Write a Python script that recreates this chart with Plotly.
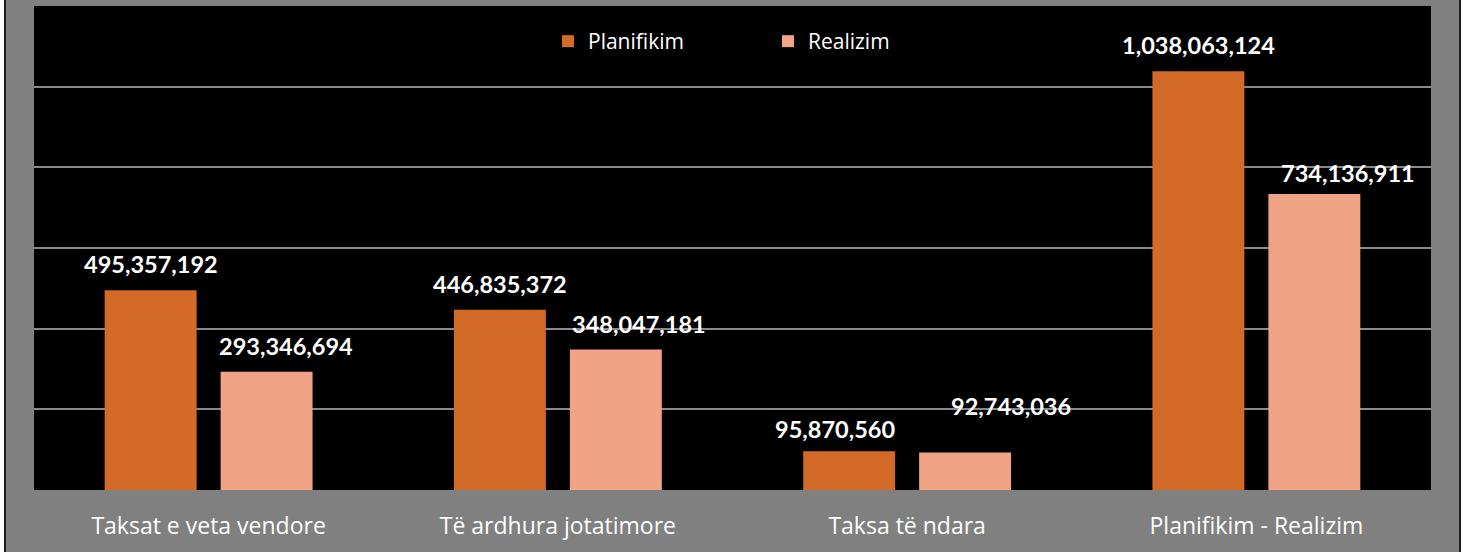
import plotly.graph_objects as go

# ---- data ----
categories = ["Taksat e veta vendore", "Të ardhura jotatimore", "Taksa të ndara", "Planifikim - Realizim"]
series_names = ["Planifikim", "Realizim"]
planifikim = [495357192, 446835372, 95870560, 1038063124]
realizim = [293346694, 348047181, 92743036, 734136911]

# ---- style / layout constants ----
W, H = 1465, 552
ML, MR, MT, MB = 34, 34, 6, 62
PW, PH = W - ML - MR, H - MT - MB
GRAY = "#808080"
C_PLAN = "#D46A28"
C_REAL = "#F0A385"

def px_x(p):
    return (p - ML) / PW

def px_y(p):
    return 1 - (p - MT) / PH

# label offsets (pixels) relative to bar centre / bar top
BAR_OFF = 58
plan_dx = [0, 0, -14, 0]
plan_dy = [10, 10, 6, 10]
real_dx = [19, 23, 46, 34]
real_dy = [10, 10, 31, 5]

LABEL_FONT = dict(family="Lato", size=23.5, color="white", weight="bold")

fig = go.Figure()
fig.add_trace(go.Bar(name=series_names[0], x=categories, y=planifikim,
                     marker=dict(color=C_PLAN, line=dict(width=0))))
fig.add_trace(go.Bar(name=series_names[1], x=categories, y=realizim,
                     marker=dict(color=C_REAL, line=dict(width=0))))

annotations = []
for i, c in enumerate(categories):
    annotations.append(dict(x=c, y=planifikim[i], xref="x", yref="y",
                            text=f"{planifikim[i]:,}", showarrow=False,
                            xanchor="center", yanchor="bottom",
                            xshift=-BAR_OFF + plan_dx[i], yshift=plan_dy[i],
                            font=LABEL_FONT))
    annotations.append(dict(x=c, y=realizim[i], xref="x", yref="y",
                            text=f"{realizim[i]:,}", showarrow=False,
                            xanchor="center", yanchor="bottom",
                            xshift=BAR_OFF + real_dx[i], yshift=real_dy[i],
                            font=LABEL_FONT))

shapes = [
    # grey frame of the chart picture
    dict(type="rect", xref="paper", yref="paper", layer="below",
         x0=px_x(5), x1=px_x(1460), y0=px_y(H + 5), y1=px_y(-5),
         fillcolor=GRAY, line=dict(width=0)),
    dict(type="line", xref="paper", yref="paper", layer="below",
         x0=px_x(5), x1=px_x(5), y0=px_y(H + 5), y1=px_y(-5),
         line=dict(color="#1e1e1e", width=2)),
    dict(type="line", xref="paper", yref="paper", layer="below",
         x0=px_x(1460), x1=px_x(1460), y0=px_y(H + 5), y1=px_y(-5),
         line=dict(color="#1e1e1e", width=2)),
    # black plot area
    dict(type="rect", xref="paper", yref="paper", layer="below",
         x0=0, x1=1, y0=0, y1=1, fillcolor="black", line=dict(width=0)),
]

fig.update_layout(
    width=W, height=H,
    margin=dict(l=ML, r=MR, t=MT, b=MB, pad=0),
    paper_bgcolor="white",
    plot_bgcolor="rgba(0,0,0,0)",
    barmode="group",
    bargap=0.336,
    bargroupgap=0.207,
    font=dict(family="Open Sans", color="white"),
    showlegend=True,
    legend=dict(orientation="h", x=px_x(548), xanchor="left",
                y=px_y(21), yanchor="top",
                entrywidth=175, entrywidthmode="pixels",
                font=dict(family="Open Sans", size=21, color="white"),
                bgcolor="rgba(0,0,0,0)", traceorder="normal"),
    xaxis=dict(showgrid=False, zeroline=False, showline=False, ticks="",
               tickfont=dict(family="Open Sans", size=23, color="white"),
               ticklabelstandoff=20, fixedrange=True),
    yaxis=dict(range=[0, 1.2e9], dtick=2e8, showgrid=True, gridcolor="#8a8a8a",
               gridwidth=1.5, zeroline=False, showline=False, showticklabels=False,
               ticks="", fixedrange=True),
    annotations=annotations,
    shapes=shapes,
)

fig.write_html("out.html", config={"displayModeBar": False},
               post_script="document.body.style.margin='0';")
